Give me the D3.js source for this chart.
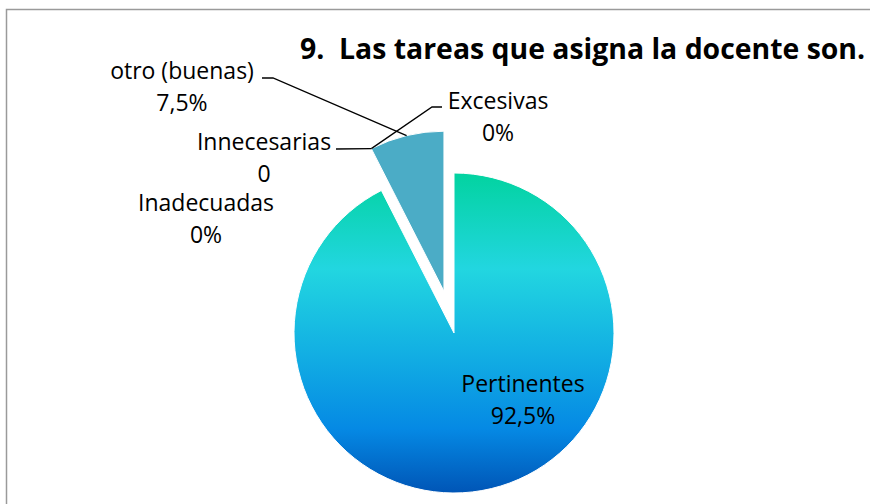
<!DOCTYPE html>
<html>
<head>
<meta charset="utf-8">
<script src="https://cdn.jsdelivr.net/npm/d3@7"></script>
<style>
  body { margin: 0; background: #fff; }
  svg text { font-family: "Open Sans", sans-serif; fill: #000; }
</style>
</head>
<body>
<div id="chart"></div>
<script>
const width = 870,
    height = 504;

const categories = ["Pertinentes", "Excesivas", "Innecesarias", "Inadecuadas", "otro (buenas)"];
const values = [92.5, 0, 0, 0, 7.5];
const valueLabels = ["92,5%", "0%", "0", "0%", "7,5%"];
const title = "9.  Las tareas que asigna la docente son.";

const cx = 454,
    cy = 333,
    radius = 160,
    explode = 43;

const svg = d3
    .select("#chart")
    .append("svg")
    .attr("width", width)
    .attr("height", height);

// chart border (right/bottom run off the picture)
svg.append("rect")
    .attr("x", 6.5)
    .attr("y", 9.5)
    .attr("width", 900)
    .attr("height", 520)
    .attr("fill", "none")
    .attr("stroke", "#9a9a9a")
    .attr("stroke-width", 1.5);

const defs = svg.append("defs");
// gradient is used inside the translated group, so coords are relative to the pie centre
const grad = defs
    .append("linearGradient")
    .attr("id", "grad-pert")
    .attr("gradientUnits", "userSpaceOnUse")
    .attr("x1", 0)
    .attr("x2", 0)
    .attr("y1", -radius)
    .attr("y2", radius);
[
    [0, "#02d3a0"],
    [0.3, "#22d6e0"],
    [0.55, "#13b1e3"],
    [0.8, "#0589e4"],
    [1, "#0055b6"]
].forEach((s) => grad.append("stop").attr("offset", s[0]).attr("stop-color", s[1]));

const fills = ["url(#grad-pert)", "#4bacc6", "#4bacc6", "#4bacc6", "#4bacc6"];

const pie = d3.pie().sort(null).value((d) => d)(values);
const arc = d3.arc().innerRadius(0).outerRadius(radius);

// offset of a slice pulled out along its bisector
function offset(d, i) {
    if (i === 0) return [0, 0];
    const o = pie[4];
    const mid = (o.startAngle + o.endAngle) / 2;
    return [Math.sin(mid) * explode, -Math.cos(mid) * explode];
}

const g = svg.append("g").attr("transform", "translate(" + cx + "," + cy + ")");

g.selectAll("path")
    .data(pie)
    .enter()
    .append("path")
    .attr("transform", (d, i) => "translate(" + offset(d, i) + ")")
    .attr("d", arc)
    .attr("fill", (d, i) => fills[i])
    .attr("stroke", "#fff")
    .attr("stroke-width", 1);

// point on the outer rim of a slice at angle a
function rim(a, i) {
    const o = offset(null, i);
    return [o[0] + Math.sin(a) * radius, o[1] - Math.cos(a) * radius];
}

const otro = pie[4];
const otroMid = rim((otro.startAngle + otro.endAngle) / 2, 4);
const otroStart = rim(otro.startAngle, 4);

// leader lines, relative to the pie centre
const leaders = [
    [[-192, -255], [-181, -255], otroMid],
    [[-12, -226], [-22, -226], otroStart],
    [[-118, -184], otroStart]
];
g.selectAll("polyline")
    .data(leaders)
    .enter()
    .append("polyline")
    .attr("points", (d) => d.map((p) => p.join(",")).join(" "))
    .attr("fill", "none")
    .attr("stroke", "#000")
    .attr("stroke-width", 1.3);

// label anchors (centre of text, first baseline), relative to pie centre
const labelPos = [
    [69, 59],
    [44, -224],
    [-190, -183],
    [-248, -122],
    [-272, -254]
];

const labels = g
    .selectAll("text.lbl")
    .data(pie)
    .enter()
    .append("text")
    .attr("class", "lbl")
    .attr("text-anchor", "middle")
    .style("font-size", "23px");
labels
    .append("tspan")
    .attr("x", (d, i) => labelPos[i][0])
    .attr("y", (d, i) => labelPos[i][1])
    .text((d, i) => categories[i]);
labels
    .append("tspan")
    .attr("x", (d, i) => labelPos[i][0])
    .attr("y", (d, i) => labelPos[i][1] + 32)
    .text((d, i) => valueLabels[i]);

svg.append("text")
    .attr("x", 300)
    .attr("y", 59)
    .style("font-size", "28.4px")
    .style("font-weight", "bold")
    .style("white-space", "pre")
    .text(title);
</script>
</body>
</html>
